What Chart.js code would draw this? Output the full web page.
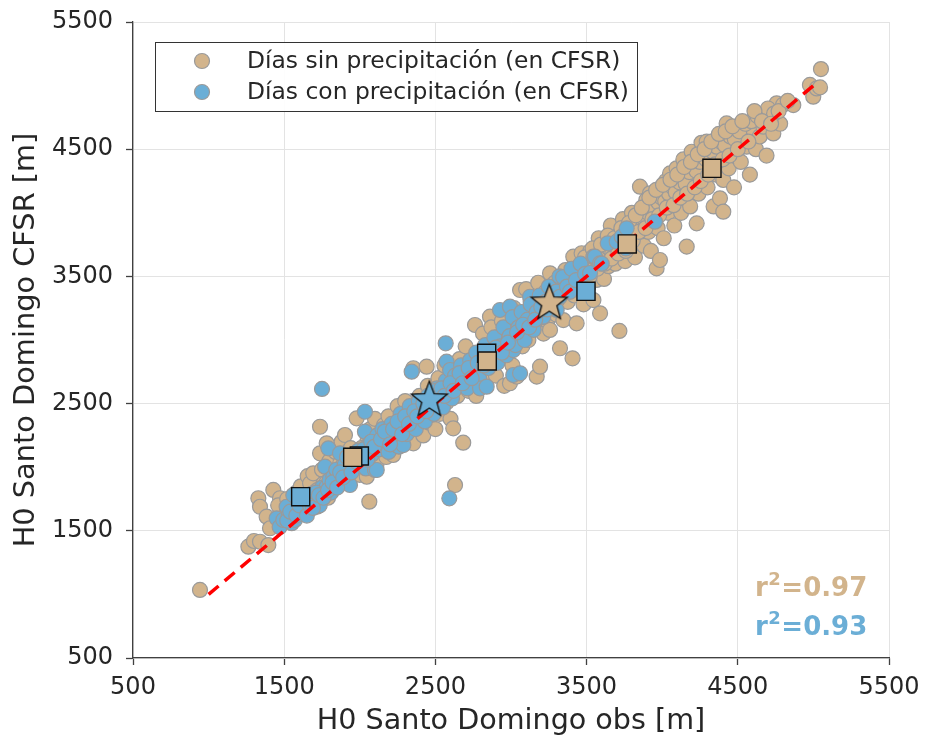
<!DOCTYPE html>
<html>
<head>
<meta charset="utf-8">
<script src="https://cdn.jsdelivr.net/npm/chart.js@4/dist/chart.umd.min.js"></script>
<style>
html,body{margin:0;padding:0;background:#fff;}
canvas{display:block;}
</style>
</head>
<body>
<canvas id="c" width="925" height="740" style="width:925px;height:740px"></canvas>
<script>
// ---------------- DATA ----------------
const axisTicks = [500, 1500, 2500, 3500, 4500, 5500];
const xTitle = 'H0 Santo Domingo obs [m]';
const yTitle = 'H0 Santo Domingo CFSR [m]';
const legendLabels = ['Días sin precipitación (en CFSR)', 'Días con precipitación (en CFSR)'];
const r2Labels = ['0.97', '0.93'];

// [obs, CFSR] days without precipitation
const dryDays = [
[943,1035],[1263,1375],[1300,1420],[1340,1414],[1395,1388],[1329,1756],[1340,1689],[1428,1821],[1384,1611],[1406,1520],[1472,1756],[1460,1700],[1500,1610],[1520,1750],[1550,1690],[1580,1800],
[1610,1850],[1640,1760],[1655,1930],[1671,1873],[1692,1952],[1700,1800],[1720,1690],[1737,2109],[1737,2318],[1750,1980],[1760,1870],[1781,2188],[1790,1760],[1800,2050],[1820,1960],[1840,2120],[1850,1890],[1870,2030],[1880,2200],[1902,2253],[1910,2080],[1930,1900],[1940,2150],[1960,2010],[1979,2384],[1990,2120],[2000,1940],
[2020,2080],[2046,1925],[2050,2200],[2063,1729],[2070,2300],[2090,2140],[2100,2380],[2110,2020],[2130,2250],[2150,2170],[2160,2330],[2175,2080],[2190,2400],[2200,2250],[2221,2096],[2230,2320],[2250,2480],[2260,2190],[2275,2380],[2290,2270],[2300,2520],[2320,2350],[2335,2200],[2354,2188],[2360,2450],[2354,2778],[2380,2300],[2395,2560],[2410,2400],[2420,2250],[2442,2790],[2440,2500],[2450,2640],[2460,2350],[2475,2470],[2490,2580],[2500,2300],
[2510,2480],[2520,2700],[2530,2420],[2550,2600],[2560,2800],[2575,2510],[2590,2680],[2600,2380],[2618,2306],[2630,1860],[2630,2760],[2645,2560],[2660,2850],[2670,2650],[2684,2193],[2690,2740],[2700,2950],[2720,2600],[2730,2820],[2745,2700],[2762,3118],[2770,2560],[2790,2880],[2800,2760],[2815,3050],[2830,2680],[2840,2900],[2861,3183],[2870,3100],[2885,2950],[2900,2720],[2910,3020],[2925,2860],[2940,3150],[2955,2640],[2970,3000],[2993,2660],[3000,3120],
[3010,2800],[3020,3250],[3038,2712],[3050,3050],[3060,3393],[3075,2950],[3090,3200],[3100,3400],[3115,3000],[3130,3300],[3150,3120],[3170,2712],[3180,3450],[3192,2790],[3200,3250],[3215,3050],[3230,3380],[3240,3150],[3258,3524],[3258,3079],[3270,3300],[3290,3450],[3300,3200],[3324,2935],[3330,3380],[3346,3157],[3360,3550],[3375,3300],[3390,3450],[3407,2856],[3412,3655],[3420,3350],[3434,3131],[3450,3500],[3467,3682],[3480,3280],[3495,3600],
[3510,3420],[3525,3700],[3545,3314],[3560,3550],[3567,3472],[3580,3800],[3589,3210],[3600,3650],[3615,3480],[3630,3750],[3645,3580],[3660,3900],[3677,3747],[3690,3600],[3705,3820],[3717,3071],[3720,3700],[3740,3950],[3755,3620],[3770,3850],[3785,3720],[3800,4000],[3809,3904],[3820,3650],[3835,3800],[3853,4205],[3870,3900],[3880,3740],[3895,4100],[3910,3850],[3919,4153],[3925,3700],[3940,4000],[3955,4150],[3963,3563],[3970,3880],[3985,3629],[4000,4050],
[4010,3800],[4025,4250],[4040,4000],[4052,4310],[4065,4100],[4080,3900],[4095,4350],[4110,4150],[4125,4000],[4140,4420],[4162,3734],[4170,4200],[4185,4050],[4195,4480],[4210,4300],[4228,3917],[4240,4150],[4260,4550],[4275,4350],[4294,4559],[4300,4200],[4320,4400],[4340,4050],[4355,4300],[4370,4600],[4382,4114],[4395,4450],[4404,4009],[4404,4258],[4426,4703],[4440,4350],[4460,4550],[4475,4200],[4492,4624],[4492,4441],
[4520,4400],[4540,4650],[4559,4520],[4580,4300],[4603,4651],[4620,4500],[4645,4600],[4669,4677],[4690,4450],[4713,4795],[4735,4624],[4757,4861],[4780,4700],[4800,4850],[4867,4847],[4977,5005],[4999,4913],[5022,4978],[5044,4986],[5050,5130],
[3005,3080],[3035,3120],[3065,3150],[3085,3060],[3110,3220],[3140,3180],[3160,3260],[3185,3200],[3210,3320],[3235,3260],[3250,3350],[3280,3380],[3310,3320],[3335,3450],[3355,3400],[3385,3380],[3400,3500],[3430,3480],[3445,3560],[3470,3520],[3500,3550],[3530,3600],[3555,3620],[3575,3660],[3610,3700],[3625,3640],[3650,3720],[3670,3680],[3700,3760],[3725,3800],[3750,3780],[3775,3830],[3795,3880],[3815,3860],[3840,3920],[3860,3960],[3885,3950],[3905,4000],[3930,4060],[3950,4030],[3975,4080],[3995,4120],
[4020,4090],[4045,4150],[4070,4200],[4090,4160],[4115,4240],[4135,4280],[4155,4230],[4180,4320],[4205,4380],[4225,4330],[4250,4400],[4270,4460],[4290,4420],[4310,4500],[4335,4480],[4360,4520],[4385,4560],[4415,4530],[4450,4600],[4480,4580],[4510,4640],[4550,4700],[4590,4720],[4630,4760],[4700,4820],[4740,4780],
[3420,3520],[3460,3430],[3490,3650],[3520,3500],[3540,3720],[3570,3560],[3595,3750],[3620,3600],[3640,3820],[3665,3640],[3685,3800],[3710,3680],[3730,3880],[3760,3700],[3780,3920],[3805,3780],[3825,3980],[3845,3850],[3865,4040],[3890,3880],[3915,4120],[3935,3950],[3960,4180],[3980,3980],[4005,4220],[4030,4040],[4055,4260],[4075,4060],[4100,4300],[4120,4120],[4145,4360],[4165,4150],[4190,4400],[4215,4200],[4235,4460],[4255,4250],[4280,4500],[4305,4300],[4325,4560],[4350,4380],[4375,4620],[4400,4420],[4420,4640],[4445,4450],[4465,4680],[4500,4500],[4530,4720],[4570,4560],[4610,4800],[4660,4720],[4720,4700],[4770,4800],[4830,4880],
[1650,1700],[1720,1820],[1780,1880],[1830,1850],[1890,2020],[1950,2060],[2010,2150],[2060,2120],[2120,2200],[2180,2280],[2240,2300],[2290,2380],[2340,2420],[2400,2480],[2450,2520],[2520,2600],[2580,2620],[2640,2700],[2700,2780],[2760,2840],[2820,2880],[2880,2960],[2940,3000]
];

// [obs, CFSR] days with precipitation
const wetDays = [
[1450,1598],[1470,1530],[1494,1585],[1516,1689],[1530,1620],[1550,1560],[1560,1781],[1571,1585],[1590,1680],[1609,1640],[1626,1637],[1640,1720],[1660,1660],[1680,1790],[1700,1740],[1715,1756],[1735,1700],[1750,1840],[1750,2615],[1770,2004],[1781,1847],[1792,2148],[1800,1900],[1810,1800],[1825,1925],[1845,1980],[1869,2109],[1880,1880],[1900,2020],[1920,1950],[1935,1860],[1957,2057],[1970,2000],[1990,2130],
[2010,2060],[2034,2436],[2034,2279],[2040,1990],[2060,2180],[2080,2100],[2100,1978],[2112,1978],[2115,2250],[2130,2140],[2150,2300],[2170,2200],[2190,2120],[2210,2340],[2230,2250],[2244,2174],[2259,2161],[2270,2420],[2288,2174],[2290,2320],[2310,2260],[2330,2480],[2343,2751],[2350,2380],[2370,2300],[2390,2520],[2410,2440],[2430,2360],[2450,2560],[2470,2480],[2490,2420],
[2510,2620],[2530,2540],[2550,2470],[2568,2974],[2570,2680],[2574,2830],[2590,2600],[2592,1755],[2597,2764],[2610,2540],[2630,2720],[2650,2640],[2670,2800],[2690,2700],[2710,2620],[2730,2840],[2750,2760],[2770,2900],[2790,2700],[2795,2620],[2810,2830],[2830,2960],[2839,2633],[2850,2780],[2870,2900],[2890,3020],[2910,2820],[2927,3236],[2930,2950],[2950,3100],[2970,2880],[2990,3030],[2993,3262],
[3010,3180],[3015,2725],[3015,2921],[3030,2960],[3050,3100],[3060,2738],[3070,3220],[3090,3000],[3110,3160],[3126,3340],[3130,3280],[3150,3080],[3170,3220],[3190,3350],[3210,3180],[3214,3183],[3230,3300],[3250,3420],[3280,3250],[3300,3380],[3302,3236],[3320,3500],[3324,3340],[3344,3495],[3370,3420],[3390,3380],[3400,3560],[3430,3470],[3460,3600],[3490,3520],
[3523,3527],[3545,3655],[3555,3655],[3589,3603],[3600,3600],[3640,3760],[3699,3773],[3732,3812],[3760,3720],[3765,3878],[3952,3930],
[1520,1580],[1540,1650],[1580,1620],[1600,1700],[1620,1760],[1650,1620],[1670,1700],[1690,1680],[1710,1800],[1730,1780],[1760,1760],[1790,1820],[1820,1880],[1850,1840],[1870,1960],[1890,1920],[1915,2080],[1945,1960],[1980,2040],[2000,2100],[2025,2140],[2050,2060],[2075,2200],[2095,2160],[2140,2220],[2165,2280],[2200,2180],[2220,2300],[2250,2360],[2280,2260],[2300,2400],[2325,2340],[2360,2440],[2380,2400],[2420,2500],[2440,2440],[2480,2540],[2500,2600],[2540,2620],[2560,2560],[2600,2660],[2620,2600],[2660,2740],[2680,2660],[2720,2780],[2740,2700],[2780,2820],[2820,2800],[2860,2880],[2900,2940],[2940,2900],[2980,2980],[3040,3060],[3080,3120],[3120,3100],[3160,3160],[3200,3260],[3240,3240]
];

// mean markers
const dryMeans = [[1953,2078],[2843,2835],[3769,3755],[4329,4350]];
const wetMeans = [[1609,1768],[1997,2088],[2839,2896],[3496,3383]];
const dryStar = [[3253,3289]];
const wetStar = [[2460,2528]];
const oneToOne = [[1000,1000],[5000,5000]];

// ---------------- STYLE ----------------
const TAN = '#D2B48C';
const BLUE = '#6BAED6';
const EDGE = '#9A9A9A';
const FONT = "'DejaVu Sans', 'Noto Sans', sans-serif";
const toXY = a => a.map(([x, y]) => ({x, y}));

function makeStar(fill) {
  const s = 44, c = s / 2, R = 19, r = R * 0.42;
  const cv = document.createElement('canvas');
  cv.width = s; cv.height = s;
  const g = cv.getContext('2d');
  g.beginPath();
  for (let i = 0; i < 10; i++) {
    const rad = i % 2 === 0 ? R : r;
    const a = -Math.PI / 2 + i * Math.PI / 5;
    const px = c + rad * Math.cos(a), py = c + rad * Math.sin(a);
    i === 0 ? g.moveTo(px, py) : g.lineTo(px, py);
  }
  g.closePath();
  g.fillStyle = fill; g.fill();
  g.lineWidth = 1.3; g.strokeStyle = '#111'; g.stroke();
  return cv;
}

const overlay = {
  id: 'overlay',
  afterDatasetsDraw(chart) {
    const ctx = chart.ctx;
    ctx.save();
    ctx.fillStyle = 'rgba(255,255,255,0.9)';
    ctx.fillRect(155.5, 42.5, 482, 69);
    ctx.strokeStyle = '#333'; ctx.lineWidth = 1;
    ctx.strokeRect(155.5, 42.5, 482, 69);
    const rows = [[TAN, 61], [BLUE, 92]];
    rows.forEach(([col, y], i) => {
      ctx.beginPath(); ctx.arc(202, y, 7.5, 0, Math.PI * 2);
      ctx.fillStyle = col; ctx.fill();
      ctx.strokeStyle = EDGE; ctx.lineWidth = 1.2; ctx.stroke();
      ctx.fillStyle = '#262626';
      ctx.font = '23.4px ' + FONT;
      ctx.textBaseline = 'middle'; ctx.textAlign = 'left';
      ctx.fillText(legendLabels[i], 247, y + 1);
    });
    const ann = [[TAN, 596, r2Labels[0]], [BLUE, 635, r2Labels[1]]];
    ann.forEach(([col, base, val]) => {
      ctx.fillStyle = col; ctx.textBaseline = 'alphabetic'; ctx.textAlign = 'left';
      let x = 755;
      ctx.font = 'bold 26px ' + FONT;
      ctx.fillText('r', x, base); x += ctx.measureText('r').width + 0.5;
      ctx.font = 'bold 18px ' + FONT;
      ctx.fillText('2', x, base - 11); x += ctx.measureText('2').width + 0.5;
      ctx.font = 'bold 26px ' + FONT;
      ctx.fillText('=' + val, x, base);
    });
    ctx.restore();
  }
};

const fixTicks = scale => { scale.ticks = axisTicks.map(v => ({value: v})); };

const chart = new Chart(document.getElementById('c'), {
  type: 'scatter',
  data: {
    datasets: [
      { label: 'dryStar', data: toXY(dryStar), order: 0, pointStyle: makeStar(TAN), pointRadius: 19 },
      { label: 'wetStar', data: toXY(wetStar), order: 0, pointStyle: makeStar(BLUE), pointRadius: 19 },
      { label: 'dryMeans', data: toXY(dryMeans), order: 1, pointStyle: 'rect', pointRadius: 12.8,
        backgroundColor: TAN, borderColor: '#111', borderWidth: 1.4 },
      { label: 'wetMeans', data: toXY(wetMeans), order: 2, pointStyle: 'rect', pointRadius: 12.8,
        backgroundColor: BLUE, borderColor: '#111', borderWidth: 1.4 },
      { type: 'line', label: '1:1', data: toXY(oneToOne), order: 3, borderColor: '#FF0000',
        borderWidth: 3.5, borderDash: [13, 8], pointRadius: 0, fill: false, showLine: true },
      { label: legendLabels[1], data: toXY(wetDays), order: 4, pointRadius: 7.5,
        backgroundColor: BLUE, borderColor: EDGE, borderWidth: 1.2 },
      { label: legendLabels[0], data: toXY(dryDays), order: 5, pointRadius: 7.5,
        backgroundColor: TAN, borderColor: EDGE, borderWidth: 1.2 }
    ]
  },
  options: {
    responsive: false,
    animation: false,
    devicePixelRatio: 1,
    layout: { padding: { left: 0, right: 36, top: 22, bottom: 0 } },
    plugins: { legend: { display: false }, tooltip: { enabled: false } },
    scales: {
      x: {
        type: 'linear', min: 500, max: 5500,
        afterBuildTicks: fixTicks,
        afterFit: s => { s.height = 82; s.paddingLeft = 0; s.paddingRight = 0; },
        grid: { color: '#e3e3e3', lineWidth: 1, tickColor: '#404040', tickLength: 7, tickWidth: 1.3 },
        border: { color: '#404040', width: 1.3 },
        ticks: { color: '#262626', font: { family: FONT, size: 24 }, padding: 8, maxRotation: 0,
                 callback: v => String(v) },
        title: { display: true, text: xTitle, color: '#262626', font: { family: FONT, size: 28.6 },
                 padding: { top: 0, bottom: 1 } }
      },
      y: {
        type: 'linear', min: 500, max: 5500,
        afterBuildTicks: fixTicks,
        afterFit: s => { s.width = 133; s.paddingTop = 0; s.paddingBottom = 0; },
        grid: { color: '#e3e3e3', lineWidth: 1, tickColor: '#404040', tickLength: 7, tickWidth: 1.3 },
        border: { color: '#404040', width: 1.3 },
        ticks: { color: '#262626', font: { family: FONT, size: 24 }, padding: 13,
                 callback: v => String(v) },
        title: { display: true, text: yTitle, color: '#262626', font: { family: FONT, size: 28.8 },
                 padding: { top: 9, bottom: 0 } }
      }
    }
  },
  plugins: [overlay]
});
</script>
</body>
</html>
